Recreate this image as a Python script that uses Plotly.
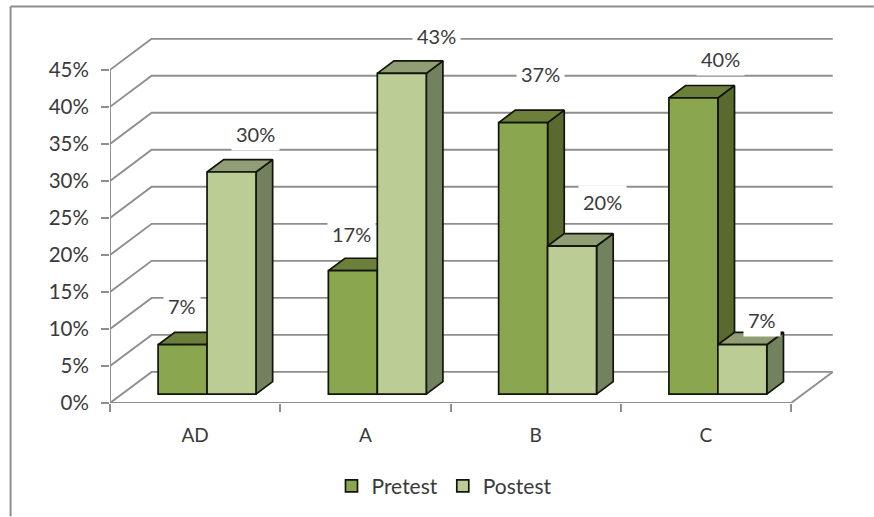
import plotly.graph_objects as go

categories = ["AD", "A", "B", "C"]
series_names = ["Pretest", "Postest"]
pretest = [6.67, 16.67, 36.67, 40.0]
postest = [30.0, 43.33, 20.0, 6.67]
pretest_labels = ["7%", "17%", "37%", "40%"]
postest_labels = ["30%", "43%", "20%", "7%"]
y_ticks = [0, 5, 10, 15, 20, 25, 30, 35, 40, 45]
y_tick_labels = ["0%", "5%", "10%", "15%", "20%", "25%", "30%", "35%", "40%", "45%"]

# layout / style (pixels of the 874x517 frame)
W, H = 874, 517
L, R, T, B = 109.5, 40, 37.5, 113.5
X_RANGE = [0, 4.252]
Y_RANGE = [0, 49.3]
WALL_DX, WALL_DY = 0.2445, 4.2      # oblique offset of the back wall
FRONT, DEPTH = 0.286, 0.4           # bar front plane and bar depth, as share of floor depth
BAR_W = 0.2875
FONT = "Lato"
FS = 20
TXT = "#3a3a3a"
GRID = "#8e8e8e"
EDGE = "#10140a"
COL = {
    "Pretest": dict(front="#8aa64e", top="#6d803b", side="#5a6a2e"),
    "Postest": dict(front="#bbcc95", top="#919e75", side="#73825e"),
}
# label offset from the bar's front-top centre, in pixels
pre_shift = [(-1, 39), (-1.5, 37), (17, 49), (27.5, 39)]
post_shift = [(24, 38), (34.5, 37), (30, 44), (19.5, 25)]

fig = go.Figure()

# walls: gridlines and the vertical axis
gx, gy = [], []
for v in y_ticks:
    gx += [0, WALL_DX, len(categories) + WALL_DX - 0.0, None]
    gy += [v, v + WALL_DY, v + WALL_DY, None]
gx = gx[:-1]; gy = gy[:-1]
fig.add_trace(go.Scatter(x=gx, y=gy, mode="lines", line=dict(color=GRID, width=1.9),
                         hoverinfo="skip", showlegend=False))
n = len(categories)
fig.add_trace(go.Scatter(
    x=[0, 0, None, 0, n, n + WALL_DX],
    y=[y_ticks[0], y_ticks[-1], None, 0, 0, WALL_DY],
    mode="lines", line=dict(color=GRID, width=1.9), hoverinfo="skip", showlegend=False))


def poly(xs, ys, color):
    fig.add_trace(go.Scatter(x=xs + xs[:1], y=ys + ys[:1], mode="lines", fill="toself",
                             fillcolor=color, line=dict(color=EDGE, width=1.7),
                             hoverinfo="skip", showlegend=False))


def bar_x(i, k):
    return i + 0.5 + FRONT * WALL_DX + (k - 1) * BAR_W


base = FRONT * WALL_DY
ddx, ddy = DEPTH * WALL_DX, DEPTH * WALL_DY

# side and top faces, painted back to front within each category
for i in range(n):
    for k, (name, vals) in enumerate(zip(series_names, [pretest, postest])):
        x0 = bar_x(i, k)
        x1 = x0 + BAR_W
        v = vals[i] + base
        poly([x1, x1 + ddx, x1 + ddx, x1], [base, base + ddy, v + ddy, v], COL[name]["side"])
        poly([x0, x0 + ddx, x1 + ddx, x1], [v, v + ddy, v + ddy, v], COL[name]["top"])

# front faces: real bars on an overlaid axis pair so they sit above the other faces
for k, (name, vals) in enumerate(zip(series_names, [pretest, postest])):
    fig.add_trace(go.Bar(
        x=[bar_x(i, k) + BAR_W / 2 for i in range(n)], y=vals,
        base=[base] * n, width=BAR_W, name=name,
        marker=dict(color=COL[name]["front"], line=dict(color=EDGE, width=1.7)),
        xaxis="x2", yaxis="y2", hoverinfo="skip"))

# data labels with white plates
annotations = []
for k, (vals, labs, shifts) in enumerate([(pretest, pretest_labels, pre_shift),
                                          (postest, postest_labels, post_shift)]):
    for i in range(n):
        annotations.append(dict(
            x=bar_x(i, k) + BAR_W / 2, y=vals[i] + base, xref="x2", yref="y2",
            text=labs[i], showarrow=False, xshift=shifts[i][0], yshift=shifts[i][1],
            font=dict(family=FONT, size=FS, color=TXT), bgcolor="white", borderpad=4))

# chart frame (left and top edges only)
plot_w, plot_h = W - L - R, H - T - B
px0 = (10 - L) / plot_w
py1 = 1 + (T - 6) / plot_h
py0 = 1 - (H - T) / plot_h
shapes = [
    dict(type="line", xref="paper", yref="paper", x0=px0, x1=px0, y0=py0, y1=py1,
         line=dict(color=GRID, width=2)),
    dict(type="line", xref="paper", yref="paper", x0=px0, x1=1 + R / plot_w, y0=py1, y1=py1,
         line=dict(color=GRID, width=2)),
]

fig.update_layout(
    width=W, height=H, margin=dict(l=L, r=R, t=T, b=B, pad=0, autoexpand=False),
    paper_bgcolor="white", plot_bgcolor="white", barmode="overlay",
    font=dict(family=FONT, size=FS, color=TXT),
    xaxis=dict(range=X_RANGE, tickvals=list(range(n + 1)), ticktext=[""] * (n + 1),
               ticks="outside", ticklen=8, tickcolor=GRID, tickwidth=1.9,
               showgrid=False, zeroline=False, showline=False),
    yaxis=dict(range=Y_RANGE, tickvals=y_ticks, ticktext=y_tick_labels,
               ticks="outside", ticklen=8, tickcolor=GRID, tickwidth=1.9,
               showgrid=False, zeroline=False, showline=False, ticklabelstandoff=8,
               tickfont=dict(family=FONT, size=FS + 0.5, color=TXT)),
    xaxis2=dict(range=X_RANGE, overlaying="x", anchor="y2", side="bottom",
                tickvals=[i + 0.5 for i in range(n)], ticktext=categories,
                ticks="outside", ticklen=15, tickcolor="rgba(0,0,0,0)",
                showgrid=False, zeroline=False, showline=False,
                tickfont=dict(family=FONT, size=FS - 1, color=TXT)),
    yaxis2=dict(range=Y_RANGE, overlaying="y", anchor="x2", visible=False),
    legend=dict(orientation="h", x=0.462, xanchor="center", y=-0.228, yanchor="middle",
                font=dict(family=FONT, size=FS + 1, color=TXT), bgcolor="rgba(0,0,0,0)"),
    annotations=annotations, shapes=shapes, showlegend=True,
)

fig.write_html("out.html", post_script="document.body.style.margin='0';",
               config=dict(displayModeBar=False))
